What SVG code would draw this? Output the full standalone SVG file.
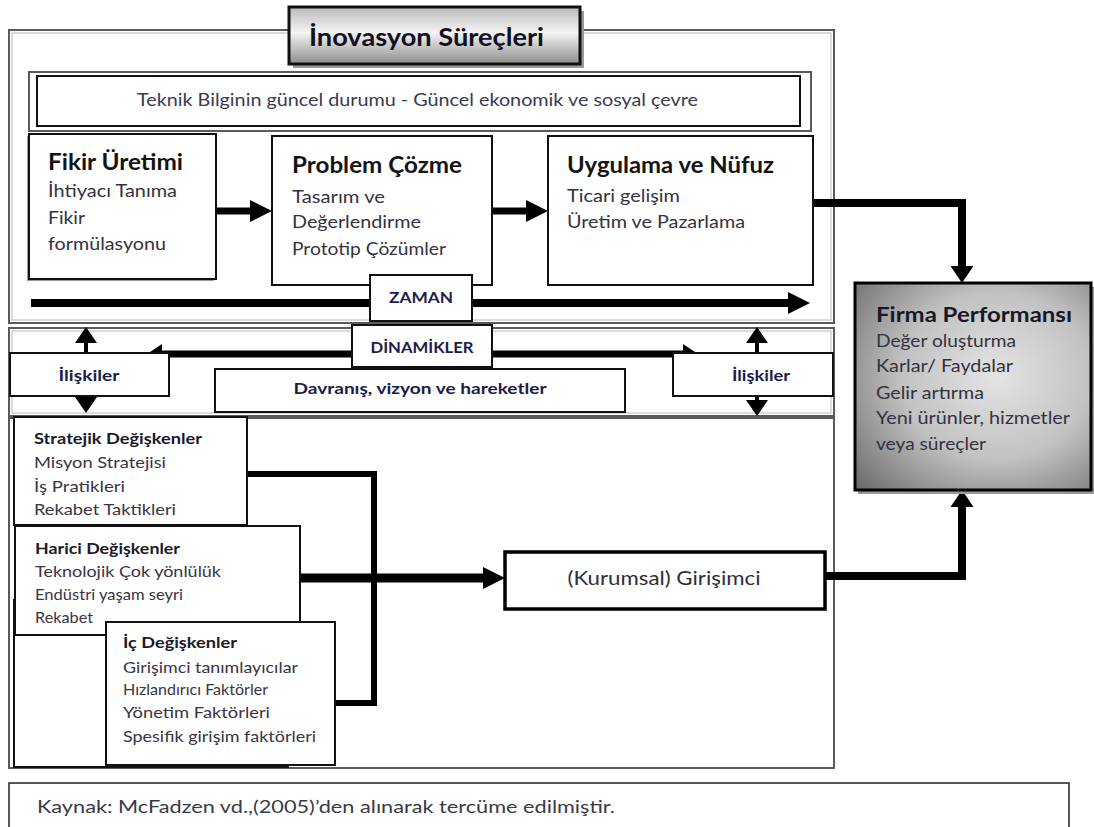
<svg xmlns="http://www.w3.org/2000/svg" width="1094" height="827" viewBox="0 0 1094 827">
  <defs>
    <style>
      text { font-family: Lato, "Open Sans", "Noto Sans", sans-serif; }
      .frame { fill: none; stroke: #5a5a5a; stroke-width: 2; }
      .frame-in { fill: none; stroke: #b8b8b8; stroke-width: 1; }
      .box { fill: #fff; stroke: #111; stroke-width: 2; }
      .box-thick { fill: #fff; stroke: #000; stroke-width: 3.5; }
      .shadow { fill: #9a9a9a; }
      .h1 { font-size: 22px; font-weight: bold; fill: #141414; }
      .h2 { font-size: 16px; font-weight: bold; fill: #1a1a2a; }
      .body { font-size: 17.5px; fill: #35323f; }
      .body-s { font-size: 16px; fill: #3a3542; }
      .lbl { font-size: 15px; font-weight: bold; fill: #1c1c48; }
      .wire { fill: none; stroke: #000; stroke-linejoin: miter; }
    </style>
    <linearGradient id="titleFill" x1="0" y1="0" x2="0" y2="1">
      <stop offset="0" stop-color="#b9b9b9"/>
      <stop offset="0.45" stop-color="#f4f4f4"/>
      <stop offset="1" stop-color="#8c8c8c"/>
    </linearGradient>
    <radialGradient id="perfFill" cx="0.6" cy="0.45" r="0.8">
      <stop offset="0" stop-color="#e4e4e4"/>
      <stop offset="0.5" stop-color="#c2c2c2"/>
      <stop offset="1" stop-color="#6a6a6a"/>
    </radialGradient>
    <marker id="head" markerUnits="userSpaceOnUse" markerWidth="22" markerHeight="22" viewBox="0 0 22 22" refX="0" refY="11" orient="auto">
      <path d="M0,0 L22,11 L0,22 Z" fill="#000"/>
    </marker>
    <marker id="headMid" markerUnits="userSpaceOnUse" markerWidth="15" markerHeight="20" viewBox="0 0 15 20" refX="0" refY="10" orient="auto-start-reverse">
      <path d="M0,0 L15,10 L0,20 Z" fill="#000"/>
    </marker>
    <marker id="headSmall" markerUnits="userSpaceOnUse" markerWidth="16" markerHeight="22" viewBox="0 0 16 22" refX="0" refY="11" orient="auto-start-reverse">
      <path d="M0,0 L16,11 L0,22 Z" fill="#000"/>
    </marker>
    <marker id="headUp" markerUnits="userSpaceOnUse" markerWidth="17" markerHeight="23" viewBox="0 0 17 23" refX="0" refY="11.5" orient="auto">
      <path d="M0,0 L17,11.5 L0,23 Z" fill="#000"/>
    </marker>
  </defs>

  <rect width="1094" height="827" fill="#fff"/>

  <!-- container frames -->
  <g id="frames">
    <rect class="frame" x="9" y="30" width="825" height="293"/>
    <rect class="frame-in" x="12" y="33" width="819" height="287"/>
    <rect class="frame" x="9" y="328" width="825" height="88"/>
    <rect class="frame-in" x="12" y="331" width="819" height="82"/>
    <rect class="frame" x="9" y="418" width="825" height="350"/>
    <rect class="frame" x="29" y="72" width="782" height="59" stroke="#7a7a7a"/>
  </g>

  <!-- connectors -->
  <g id="connectors">
    <path class="wire" d="M216,211 H250" stroke-width="7" marker-end="url(#head)"/>
    <path class="wire" d="M492,211 H526" stroke-width="7" marker-end="url(#head)"/>
    <path class="wire" d="M31,303 H788" stroke-width="8" marker-end="url(#head)"/>
    <path class="wire" d="M162,354 H683" stroke-width="7" marker-start="url(#headMid)" marker-end="url(#headMid)"/>
    <path class="wire" d="M86,343 V397" stroke-width="4" marker-start="url(#headSmall)" marker-end="url(#headSmall)"/>
    <path class="wire" d="M757,343 V400" stroke-width="4" marker-start="url(#headSmall)" marker-end="url(#headSmall)"/>
    <path class="wire" d="M247,474 H374 V703 H335" stroke-width="6"/>
    <path class="wire" d="M300,578 H483" stroke-width="9" marker-end="url(#head)"/>
    <path class="wire" d="M813,203 H962 V266" stroke-width="8" marker-end="url(#headUp)"/>
    <path class="wire" d="M826,576 H962 V507" stroke-width="8" marker-end="url(#headUp)"/>
  </g>

  <g id="title">
    <rect class="shadow" x="293" y="11" width="291" height="57"/>
    <rect x="289" y="7" width="291" height="57" fill="url(#titleFill)" stroke="#111" stroke-width="3"/>
    <text x="309" y="46" font-size="25" font-weight="bold" fill="#101020" textLength="235" lengthAdjust="spacingAndGlyphs">İnovasyon Süreçleri</text>
  </g>

  <g id="context">
    <rect class="box" x="37" y="76" width="763" height="50"/>
    <text x="137" y="106" font-size="18" fill="#3a3a52" textLength="561" lengthAdjust="spacingAndGlyphs">Teknik Bilginin güncel durumu - Güncel ekonomik ve sosyal çevre</text>
  </g>

  <g id="fikir">
    <rect class="shadow" x="27" y="136" width="187" height="145"/>
    <rect class="box" x="29" y="134" width="187" height="145" stroke-width="2.5"/>
    <text class="h1" x="48" y="170" textLength="135" lengthAdjust="spacingAndGlyphs">Fikir Üretimi</text>
    <text class="body" x="48" y="197" textLength="129" lengthAdjust="spacingAndGlyphs">İhtiyacı Tanıma</text>
    <text class="body" x="48" y="224" textLength="37" lengthAdjust="spacingAndGlyphs">Fikir</text>
    <text class="body" x="48" y="250" textLength="118" lengthAdjust="spacingAndGlyphs">formülasyonu</text>
  </g>

  <g id="problem">
    <rect class="box" x="272" y="136" width="220" height="149"/>
    <text class="h1" x="292" y="173" textLength="170" lengthAdjust="spacingAndGlyphs">Problem Çözme</text>
    <text class="body" x="292" y="203" textLength="93" lengthAdjust="spacingAndGlyphs">Tasarım ve</text>
    <text class="body" x="292" y="228" textLength="129" lengthAdjust="spacingAndGlyphs">Değerlendirme</text>
    <text class="body" x="292" y="255" textLength="154" lengthAdjust="spacingAndGlyphs">Prototip Çözümler</text>
  </g>

  <g id="uygulama">
    <rect class="box" x="548" y="136" width="265" height="149" stroke-width="2.5"/>
    <text class="h1" x="567" y="173" textLength="207" lengthAdjust="spacingAndGlyphs">Uygulama ve Nüfuz</text>
    <text class="body" x="567" y="202" textLength="113" lengthAdjust="spacingAndGlyphs">Ticari gelişim</text>
    <text class="body" x="567" y="228" textLength="178" lengthAdjust="spacingAndGlyphs">Üretim ve Pazarlama</text>
  </g>

  <g id="zaman">
    <rect class="box" x="370" y="275" width="102" height="46"/>
    <text class="lbl" x="421" y="303" text-anchor="middle" textLength="64" lengthAdjust="spacingAndGlyphs">ZAMAN</text>
  </g>

  <g id="dinamikler">
    <rect class="box" x="352" y="325" width="140" height="42" stroke-width="2.5"/>
    <text class="lbl" x="422" y="353" text-anchor="middle" textLength="103" lengthAdjust="spacingAndGlyphs">DİNAMİKLER</text>
  </g>

  <g id="iliskiler-sol">
    <rect class="box" x="10" y="353" width="159" height="43" stroke-width="1.5"/>
    <text class="lbl" x="89" y="381" text-anchor="middle" textLength="61" lengthAdjust="spacingAndGlyphs">İlişkiler</text>
  </g>

  <g id="iliskiler-sag">
    <rect class="box" x="673" y="353" width="160" height="43" stroke-width="1.5"/>
    <text class="lbl" x="761" y="381" text-anchor="middle" textLength="58" lengthAdjust="spacingAndGlyphs">İlişkiler</text>
  </g>

  <g id="davranis">
    <rect class="box" x="215" y="369" width="410" height="43"/>
    <text class="lbl" x="420" y="394" text-anchor="middle" textLength="253" lengthAdjust="spacingAndGlyphs">Davranış,  vizyon ve hareketler</text>
  </g>

  <g id="bos-kutu">
    <rect class="box" x="14" y="600" width="274" height="167" stroke-width="2.5"/>
  </g>

  <g id="stratejik">
    <rect class="box" x="14" y="417" width="233" height="108" stroke-width="1.5"/>
    <text class="h2" x="34" y="444" textLength="168" lengthAdjust="spacingAndGlyphs">Stratejik Değişkenler</text>
    <text class="body-s" x="34" y="468" textLength="132" lengthAdjust="spacingAndGlyphs">Misyon Stratejisi</text>
    <text class="body-s" x="34" y="492" textLength="91" lengthAdjust="spacingAndGlyphs">İş Pratikleri</text>
    <text class="body-s" x="34" y="515" textLength="142" lengthAdjust="spacingAndGlyphs">Rekabet Taktikleri</text>
  </g>

  <g id="harici">
    <rect class="box" x="15" y="526" width="285" height="109" stroke-width="1.5"/>
    <text class="h2" x="35" y="554" textLength="145" lengthAdjust="spacingAndGlyphs">Harici Değişkenler</text>
    <text class="body-s" x="35" y="577" textLength="186" lengthAdjust="spacingAndGlyphs">Teknolojik Çok yönlülük</text>
    <text class="body-s" x="35" y="600" textLength="148" lengthAdjust="spacingAndGlyphs">Endüstri yaşam seyri</text>
    <text class="body-s" x="35" y="623" textLength="58" lengthAdjust="spacingAndGlyphs">Rekabet</text>
  </g>

  <g id="ic">
    <rect class="box" x="106" y="622" width="229" height="143" stroke-width="1.5"/>
    <text class="h2" x="123" y="648" textLength="114" lengthAdjust="spacingAndGlyphs">İç Değişkenler</text>
    <text class="body-s" x="123" y="673" textLength="175" lengthAdjust="spacingAndGlyphs">Girişimci tanımlayıcılar</text>
    <text class="body-s" x="123" y="695" textLength="145" lengthAdjust="spacingAndGlyphs">Hızlandırıcı Faktörler</text>
    <text class="body-s" x="123" y="718" textLength="147" lengthAdjust="spacingAndGlyphs">Yönetim Faktörleri</text>
    <text class="body-s" x="123" y="742" textLength="193" lengthAdjust="spacingAndGlyphs">Spesifik girişim faktörleri</text>
  </g>

  <g id="kurumsal">
    <rect class="box-thick" x="505" y="552" width="320" height="57"/>
    <text x="664" y="585" font-size="19" fill="#2e2e3a" text-anchor="middle" textLength="193" lengthAdjust="spacingAndGlyphs">(Kurumsal) Girişimci</text>
  </g>

  <g id="firma">
    <rect class="shadow" x="858" y="287" width="236" height="207"/>
    <rect x="855" y="283" width="236" height="207" fill="url(#perfFill)" stroke="#000" stroke-width="3"/>
    <text x="876" y="322" font-size="21" font-weight="bold" fill="#181828" textLength="196" lengthAdjust="spacingAndGlyphs">Firma Performansı</text>
    <text class="body" x="876" y="347" font-size="18" textLength="140" lengthAdjust="spacingAndGlyphs">Değer oluşturma</text>
    <text class="body" x="876" y="372" font-size="18" textLength="137" lengthAdjust="spacingAndGlyphs">Karlar/ Faydalar</text>
    <text class="body" x="876" y="399" font-size="18" textLength="108" lengthAdjust="spacingAndGlyphs">Gelir artırma</text>
    <text class="body" x="876" y="424" font-size="18" textLength="194" lengthAdjust="spacingAndGlyphs">Yeni ürünler, hizmetler</text>
    <text class="body" x="876" y="450" font-size="18" textLength="110" lengthAdjust="spacingAndGlyphs">veya süreçler</text>
  </g>

  <g id="kaynak">
    <rect x="9" y="783" width="1060" height="50" fill="#fff" stroke="#222" stroke-width="1.5"/>
    <text x="37" y="813" font-size="18" fill="#3a3a44" textLength="578" lengthAdjust="spacingAndGlyphs">Kaynak: McFadzen vd.,(2005)’den alınarak tercüme edilmiştir.</text>
  </g>
</svg>
